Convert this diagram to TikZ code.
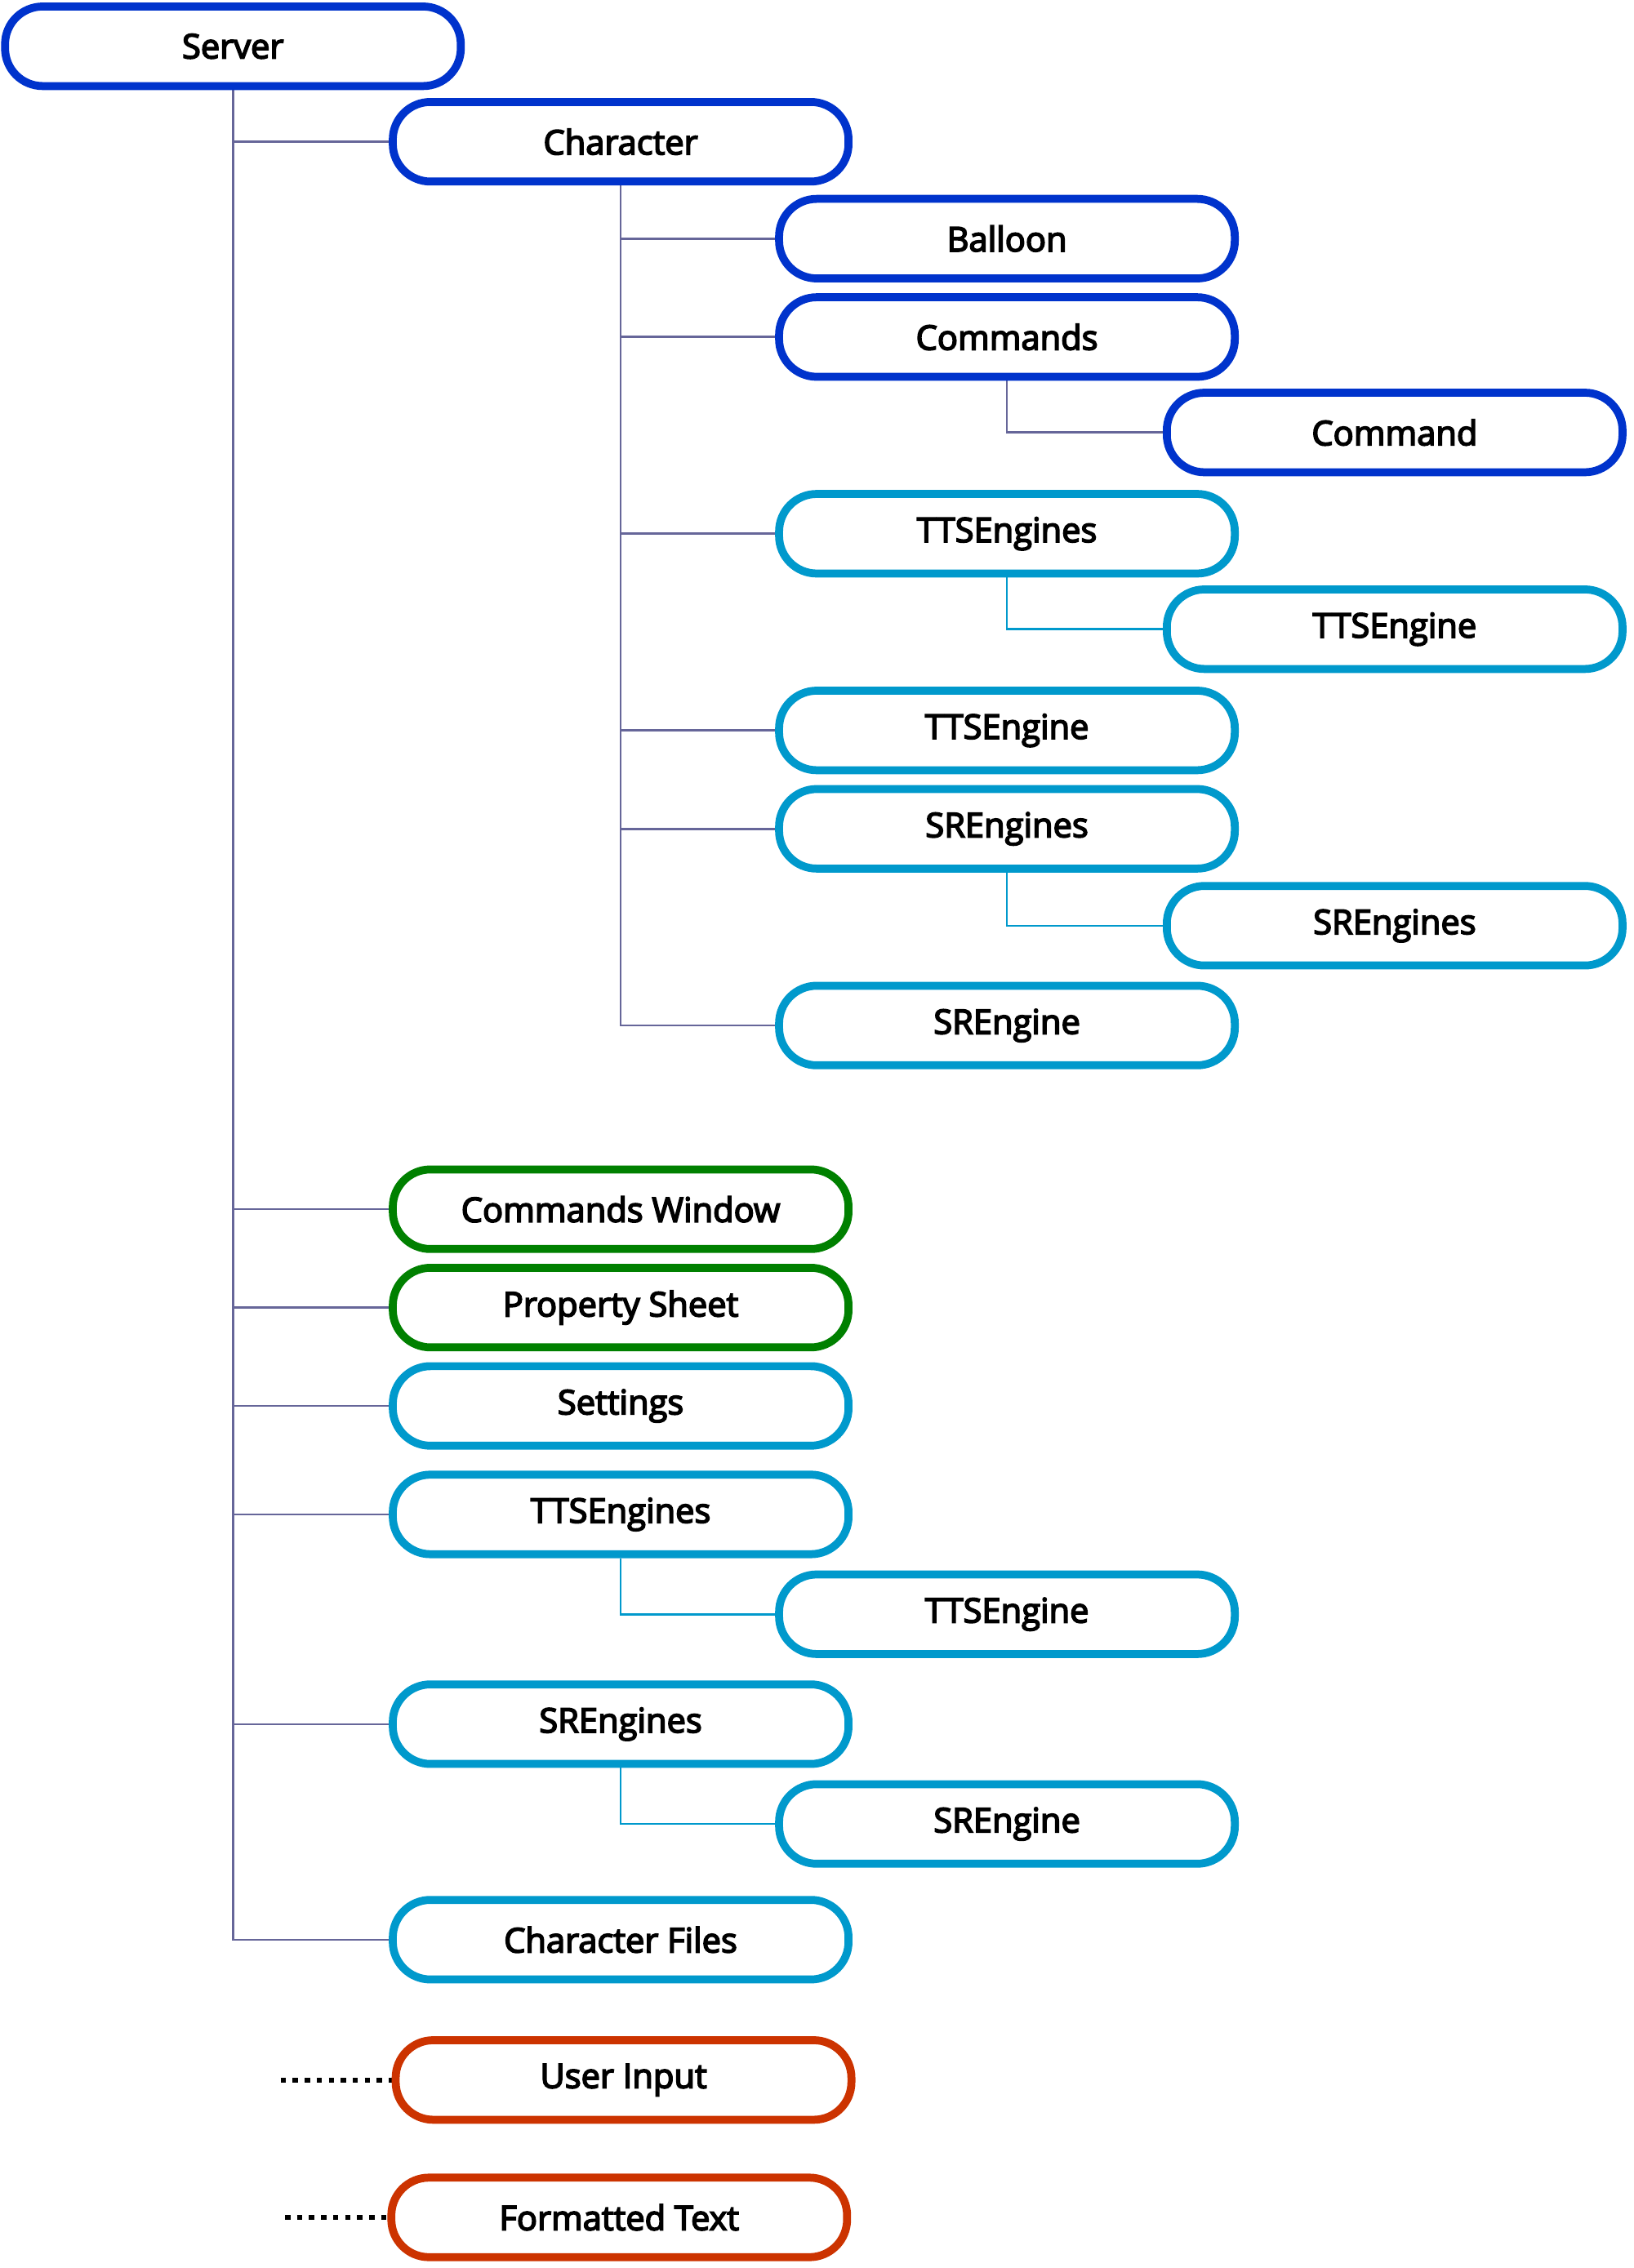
\documentclass[tikz,border=0pt]{standalone}
\usepackage{fontspec}
\setmainfont{Open Sans}
\newfontfamily\boxfont{Open Sans}[FakeBold=4]
\usetikzlibrary{backgrounds}
\definecolor{cdblue}{HTML}{0033CC}
\definecolor{ccyan}{HTML}{0099CC}
\definecolor{cgreen}{HTML}{008000}
\definecolor{cred}{HTML}{CC3300}
\definecolor{clink}{HTML}{666699}
\tikzset{
  box/.style={draw, rounded corners=26pt, minimum width=315pt, minimum height=55pt,
    line width=5.5pt, fill=white, inner sep=0pt, font=\boxfont\fontsize{23.5}{26}\selectfont},
  bluebox/.style={box, draw=cdblue},
  cyanbox/.style={box, draw=ccyan},
  greenbox/.style={box, draw=cgreen},
  redbox/.style={box, draw=cred},
  link/.style={draw=clink, line width=1.5pt},
  clink/.style={draw=ccyan, line width=1.5pt},
  dotlink/.style={draw=black, line width=3.6pt, dash pattern=on 3.7pt off 4.6pt}
}
\begin{document}
\begin{tikzpicture}[x=1pt,y=-1pt]
\useasboundingbox (0,0) rectangle (1129,1568);
\node[bluebox] (server) at (161,32) {Server};
\node[bluebox] (character) at (429,98) {Character};
\node[bluebox] (balloon) at (696,165) {Balloon};
\node[bluebox] (commands) at (696,233) {Commands};
\node[bluebox] (command) at (964,299) {Command};
\node[cyanbox] (ttsengines1) at (696,369) {TTSEngines};
\node[cyanbox] (ttsengine1) at (964,435) {TTSEngine};
\node[cyanbox] (ttsengine2) at (696,505) {TTSEngine};
\node[cyanbox] (srengines1) at (696,573) {SREngines};
\node[cyanbox] (srengines2) at (964,640) {SREngines};
\node[cyanbox] (srengine1) at (696,709) {SREngine};
\node[greenbox] (cmdwin) at (429,836) {Commands Window};
\node[greenbox] (propsheet) at (429,904) {Property Sheet};
\node[cyanbox] (settings) at (429,972) {Settings};
\node[cyanbox] (ttsengines3) at (429,1047) {TTSEngines};
\node[cyanbox] (ttsengine3) at (696,1116) {TTSEngine};
\node[cyanbox] (srengines3) at (429,1192) {SREngines};
\node[cyanbox] (srengine3) at (696,1261) {SREngine};
\node[cyanbox] (charfiles) at (429,1341) {Character Files};
\node[redbox] (userinput) at (431,1438) {User Input};
\node[redbox] (formatted) at (428,1533) {Formatted Text};
\coordinate (uifree) at (194,1438);
\coordinate (ftfree) at (197,1533);
\begin{scope}[on background layer]
\foreach \c in {character,cmdwin,propsheet,settings,ttsengines3,srengines3,charfiles}
  \path[link] (server.south) |- (\c.west);
\foreach \c in {balloon,commands,ttsengines1,ttsengine2,srengines1,srengine1}
  \path[link] (character.south) |- (\c.west);
\path[link] (commands.south) |- (command.west);
\path[clink] (ttsengines1.south) |- (ttsengine1.west);
\path[clink] (srengines1.south) |- (srengines2.west);
\path[clink] (ttsengines3.south) |- (ttsengine3.west);
\path[clink] (srengines3.south) |- (srengine3.west);
\path[dotlink] (uifree) -- (userinput.west);
\path[dotlink] (ftfree) -- (formatted.west);
\end{scope}
\end{tikzpicture}
\end{document}
